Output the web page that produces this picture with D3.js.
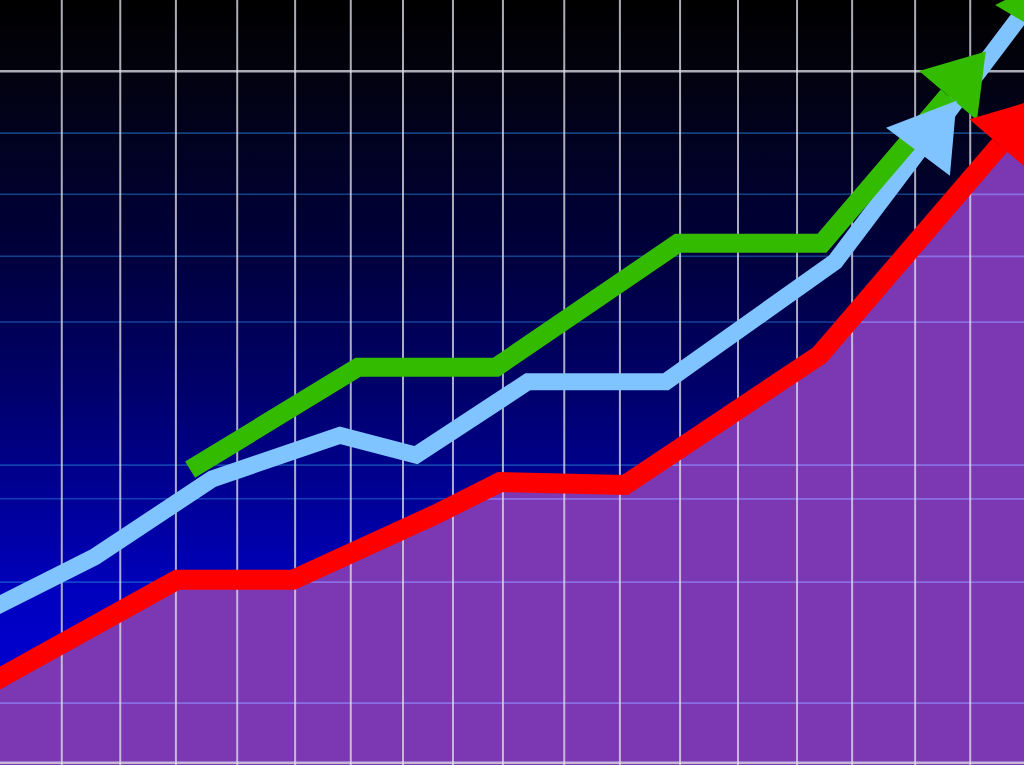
<!DOCTYPE html>
<html><head><meta charset="utf-8">
<script src="https://cdn.jsdelivr.net/npm/d3@7"></script>
<style>html,body{margin:0;padding:0;background:#000;overflow:hidden}</style>
</head><body>
<svg id="chart" width="1024" height="765"></svg>
<script>
// ---- data ----
const xTicks = [1.0, 2.03, 3.01, 4.09, 5.11, 6.09, 7.01, 7.89, 8.77, 9.85, 10.83, 11.89, 12.91, 13.95, 14.92, 16.03, 17.0];
const yTicks = [8.1, 23.9, 34.8, 39.2, 57.9, 66.5, 74.6, 82.6];
const yTopTick = [90.7];
const yBottomTick = [0.3];

const redSeries = [
  {x:-0.3,y:10.5},{x:3.03,y:24.2},{x:5.07,y:24.2},{x:7.57,y:32.7},
  {x:8.72,y:37.0},{x:10.92,y:36.6},{x:14.35,y:53.6},{x:17.52,y:81.0}
];
const blueSeries = [
  {x:-0.3,y:20.2},{x:1.58,y:27.2},{x:3.65,y:37.4},{x:5.90,y:43.1},
  {x:7.24,y:40.5},{x:9.21,y:50.1},{x:11.64,y:50.1},{x:14.62,y:65.8},{x:18.3,y:102}
];
const blueArrowAt = [16.08];
const greenSeries = [
  {x:3.26,y:38.6},{x:6.22,y:52.0},{x:8.65,y:52.0},{x:11.85,y:68.2},
  {x:14.39,y:68.2},{x:16.61,y:87.5}
];
const greenCorner = [{x:17.52,y:90.85},{x:18.0,y:96.9}];

// ---- chart ----
const W = 1024, H = 765;
const svg = d3.select('#chart');
const xS = d3.scaleLinear().domain([0, 18]).range([5, 1027]);
const yS = d3.scaleLinear().domain([0, 100]).range([H, 0]);

const defs = svg.append('defs');
const grad = defs.append('linearGradient').attr('id','bg').attr('x1',0).attr('y1',0).attr('x2',0).attr('y2',1);
[[0,'#000000'],[0.09,'#02020e'],[0.33,'#00003c'],[0.52,'#00006e'],[0.65,'#000096'],[0.78,'#0000c0'],[1,'#0000e0']]
  .forEach(([o,c]) => grad.append('stop').attr('offset',o).attr('stop-color',c));

svg.append('rect').attr('width',W).attr('height',H).attr('fill','url(#bg)');

const gridColorH = 'rgba(40,130,220,0.5)';
const gridColorV = 'rgba(220,220,230,0.78)';

svg.append('g').selectAll('line').data(yTicks).join('line')
  .attr('x1',0).attr('x2',W).attr('y1',d=>yS(d)).attr('y2',d=>yS(d))
  .attr('stroke',gridColorH).attr('stroke-width',1.6);

const last = redSeries[redSeries.length-1], prev = redSeries[redSeries.length-2];
function px(p){return [xS(p.x), yS(p.y)];}
const pe = px(last), pp = px(prev);
const dx = pe[0]-pp[0], dy = pe[1]-pp[1], dl = Math.hypot(dx,dy);
const ext = [pe[0]+dx/dl*80, pe[1]+dy/dl*80];
const areaPts = redSeries.map(px).concat([ext]);
const areaGen = d3.area().x(d=>d[0]).y0(H+2).y1(d=>d[1]);
svg.append('path').attr('d', areaGen(areaPts)).attr('fill','#7b38b2');

defs.append('clipPath').attr('id','areaClip').append('path').attr('d', areaGen(areaPts));

svg.append('g').attr('clip-path','url(#areaClip)').selectAll('line').data(yTicks).join('line')
  .attr('x1',0).attr('x2',W).attr('y1',d=>yS(d)).attr('y2',d=>yS(d))
  .attr('stroke','#8a6ee4').attr('stroke-width',1.8);

svg.append('g').selectAll('line').data(yTopTick.concat(yBottomTick)).join('line')
  .attr('x1',0).attr('x2',W).attr('y1',d=>yS(d)).attr('y2',d=>yS(d))
  .attr('stroke','rgba(215,215,225,0.8)').attr('stroke-width',2.5);

svg.append('g').selectAll('line').data(xTicks).join('line')
  .attr('x1',d=>xS(d)).attr('x2',d=>xS(d)).attr('y1',0).attr('y2',H)
  .attr('stroke',gridColorV).attr('stroke-width',2);

const lineGen = d3.line().x(d=>xS(d.x)).y(d=>yS(d.y));

function drawLine(data, color, width, cap){
  svg.append('path').attr('d', lineGen(data)).attr('fill','none')
    .attr('stroke',color).attr('stroke-width',width)
    .attr('stroke-linejoin','miter').attr('stroke-miterlimit',4)
    .attr('stroke-linecap',cap);
}
drawLine(redSeries, '#ff0000', 20, 'butt');
drawLine(blueSeries, '#80c4ff', 17, 'round');
drawLine(greenSeries, '#33bb00', 19, 'butt');

function arrowHead(base, from, L, w, color){
  const ddx = base[0]-from[0], ddy = base[1]-from[1], l = Math.hypot(ddx,ddy);
  const ux = ddx/l, uy = ddy/l;
  const nx = -uy, ny = ux;
  const pts = [
    [base[0]+ux*L, base[1]+uy*L],
    [base[0]+nx*w, base[1]+ny*w],
    [base[0]-nx*w, base[1]-ny*w]
  ];
  svg.append('polygon').attr('points', pts.map(p=>p.join(',')).join(' ')).attr('fill',color);
}

{
  const g = greenSeries;
  arrowHead(px(g[g.length-1]), px(g[g.length-2]), 58, 38, '#33bb00');
}
arrowHead(px(greenCorner[1]), px(greenCorner[0]), 56, 37, '#33bb00');

{
  const ax = blueArrowAt[0];
  let i = blueSeries.findIndex(p => p.x >= ax);
  const a = blueSeries[i-1], b = blueSeries[i];
  const t = (ax - a.x)/(b.x - a.x);
  const pt = {x: ax, y: a.y + t*(b.y - a.y)};
  arrowHead(px(pt), px(a), 64, 40, '#80c4ff');
}
arrowHead(pe, pp, 62, 40, '#ff0000');
</script>
</body></html>
